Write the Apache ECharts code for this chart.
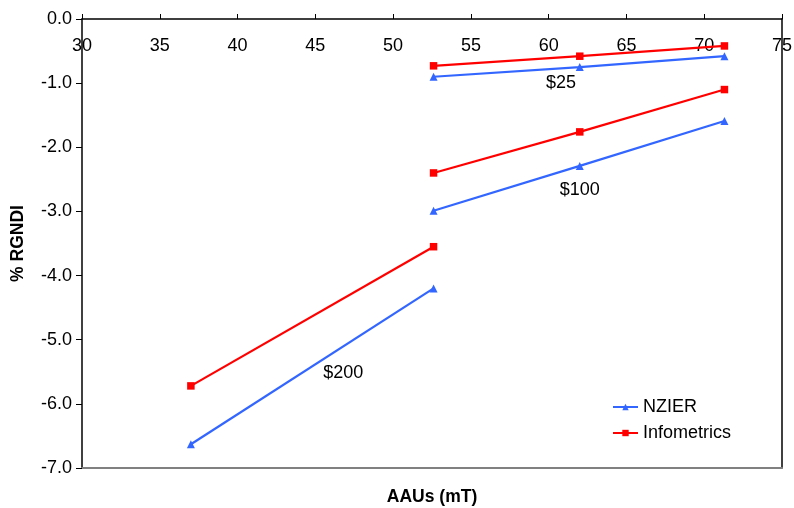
<!DOCTYPE html>
<html><head><meta charset="utf-8">
<script src="https://cdn.jsdelivr.net/npm/echarts@6/dist/echarts.min.js"></script>
<style>html,body{margin:0;padding:0;background:#fff}#c{width:794px;height:508px}</style>
</head><body><div id="c"></div>
<script>
// scenario groups ($ price)
var scenarios = ['$25', '$100', '$200'];
var nzierX = [[52.6, 62.0, 71.3], [52.6, 62.0, 71.3], [37.0, 52.6]];
var nzierY = [[-0.90, -0.75, -0.58], [-2.99, -2.29, -1.59], [-6.63, -4.20]];
var infoX = [[52.6, 62.0, 71.3], [52.6, 62.0, 71.3], [37.0, 52.6]];
var infoY = [[-0.73, -0.58, -0.42], [-2.40, -1.76, -1.10], [-5.72, -3.55]];
var labelX = [60.8, 62.0, 46.8];
var labelY = [-1.00, -2.67, -5.52];
var xTicks = [30, 35, 40, 45, 50, 55, 60, 65, 70, 75];
var yTicks = [0, -1, -2, -3, -4, -5, -6, -7];

var FONT = 'Liberation Sans, Arial, sans-serif';
var FS = 18;
var BLUE = '#3366FF', RED = '#FF0000';

function pairs(xs, ys) { return xs.map(function (x, i) { return [x, ys[i]]; }); }

var series = [];
scenarios.forEach(function (s, i) {
  series.push({
    name: 'NZIER', type: 'line', xAxisIndex: 0, yAxisIndex: 0,
    data: pairs(nzierX[i], nzierY[i]),
    symbol: 'triangle', symbolSize: 8, itemStyle: { color: BLUE },
    lineStyle: { color: BLUE, width: 2.2 }, animation: false
  });
});
scenarios.forEach(function (s, i) {
  series.push({
    name: 'Infometrics', type: 'line', xAxisIndex: 0, yAxisIndex: 0,
    data: pairs(infoX[i], infoY[i]),
    symbol: 'rect', symbolSize: 7.5, itemStyle: { color: RED },
    lineStyle: { color: RED, width: 2.2 }, animation: false
  });
});

var chart = echarts.init(document.getElementById('c'), null, { renderer: 'canvas' });
chart.setOption({
  backgroundColor: '#fff',
  animation: false,
  grid: { left: 82, right: 12, top: 19, bottom: 40, containLabel: false, outerBoundsMode: 'none' },
  legend: {
    data: ['NZIER', 'Infometrics'], orient: 'vertical', left: 607, top: 393,
    itemWidth: 25, itemHeight: 8, itemGap: 8,
    textStyle: { fontSize: FS, fontFamily: FONT, color: '#000' }
  },
  xAxis: [{
    type: 'value', position: 'top', min: 30, max: 75, interval: 5,
    axisLine: { show: true, onZero: false, lineStyle: { color: '#000', width: 1.5 } },
    axisTick: { show: true, inside: false, length: 5, lineStyle: { color: '#000' } },
    axisLabel: { inside: true, margin: 18, fontSize: FS, fontFamily: FONT, color: '#000',
      formatter: function (v) { return xTicks.indexOf(v) >= 0 ? String(v) : ''; } },
    splitLine: { show: false }
  }, {
    type: 'value', position: 'bottom', min: 30, max: 75,
    axisLine: { show: true, onZero: false, lineStyle: { color: '#808080', width: 2 } },
    axisTick: { show: false }, axisLabel: { show: false }, splitLine: { show: false },
    name: 'AAUs (mT)', nameLocation: 'middle', nameGap: 20,
    nameTextStyle: { fontSize: 17.5, fontWeight: 'bold', fontFamily: FONT, color: '#000' }
  }],
  yAxis: [{
    type: 'value', position: 'left', min: -7, max: 0, interval: 1,
    axisLine: { show: true, onZero: false, lineStyle: { color: '#000', width: 1.5 } },
    axisTick: { show: true, inside: false, length: 6, lineStyle: { color: '#000' } },
    axisLabel: { margin: 10, fontSize: FS, fontFamily: FONT, color: '#000',
      formatter: function (v) { return yTicks.indexOf(v) >= 0 ? v.toFixed(1) : ''; } },
    splitLine: { show: false },
    name: '% RGNDI', nameLocation: 'middle', nameGap: 55, nameRotate: 90,
    nameTextStyle: { fontSize: 17.5, fontWeight: 'bold', fontFamily: FONT, color: '#000' }
  }, {
    type: 'value', position: 'right', min: -7, max: 0,
    axisLine: { show: true, onZero: false, lineStyle: { color: '#000', width: 1.5 } },
    axisTick: { show: false }, axisLabel: { show: false }, splitLine: { show: false }
  }],
  series: series
});

// scenario annotations placed through the axes' scales
var texts = scenarios.map(function (s, i) {
  var p = chart.convertToPixel({ xAxisIndex: 0, yAxisIndex: 0 }, [labelX[i], labelY[i]]);
  return {
    type: 'text', x: p[0], y: p[1], silent: true,
    style: { text: s, fill: '#000', fontSize: FS, fontFamily: FONT, align: 'center', verticalAlign: 'middle' }
  };
});
chart.setOption({ graphic: texts });
</script></body></html>
